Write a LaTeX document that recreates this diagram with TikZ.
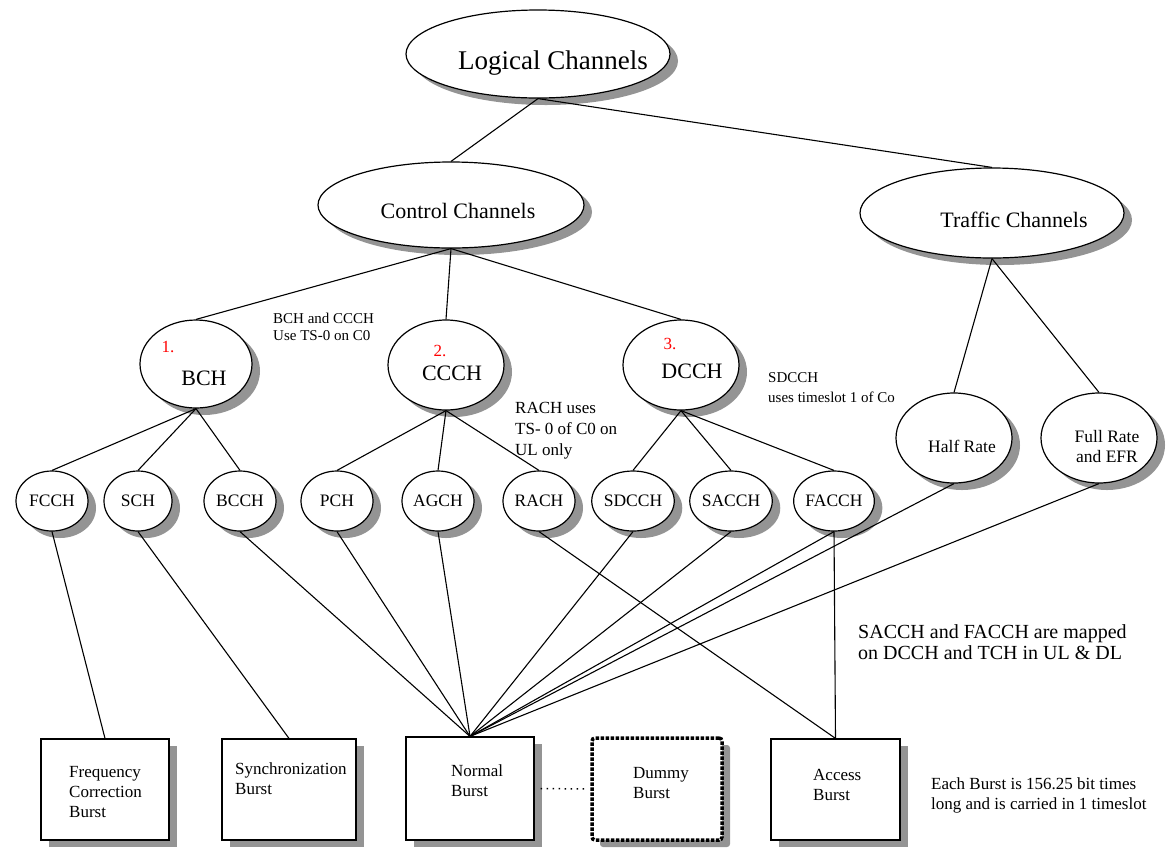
\documentclass[tikz,border=0pt]{standalone}
\usepackage{fontspec}
\setmainfont{Liberation Serif}
\usetikzlibrary{shapes.geometric,shadows}
\begin{document}
\begin{tikzpicture}[x=1pt,y=-1pt,
  shade/.style={drop shadow={shadow xshift=8pt,shadow yshift=-7pt,fill=black,opacity=0.42}},
  oval/.style={ellipse,draw,line width=1.2pt,fill=white,inner sep=0pt,shade},
  bigoval/.style={oval,minimum width=264pt,minimum height=88pt},
  midoval/.style={oval,minimum width=116pt,minimum height=90pt},
  smalloval/.style={oval,minimum width=72pt,minimum height=60pt,font=\fontsize{17.5}{20}\selectfont},
  burst/.style={rectangle,draw,line width=1.2pt,fill=white,inner sep=0pt,shade,minimum width=128pt,minimum height=101pt},
  link/.style={line width=1.1pt},
  big/.style={inner sep=0pt,font=\fontsize{27}{32}\selectfont},
  head/.style={inner sep=0pt,font=\fontsize{22}{26}\selectfont},
  num/.style={inner sep=0pt,text=red,font=\fontsize{17}{20}\selectfont},
  btxt/.style={inner sep=0pt,anchor=west,align=left,font=\fontsize{17}{20}\selectfont},
  note/.style={inner sep=0pt,anchor=west,align=left,font=\fontsize{15}{17}\selectfont},
  mtxt/.style={inner sep=0pt,align=center,font=\fontsize{17.5}{20}\selectfont}]
\useasboundingbox (0,0) rectangle (1166,847);
\fill[white] (0,0) rectangle (1166,847);

% top levels
\node[bigoval] (logical) at (538,54) {};
\node[big] (logicalT) at (553,63) {Logical Channels};
\node[bigoval,minimum width=266pt,minimum height=86pt] (control) at (451,205) {};
\node[head] (controlT) at (458,211) {Control Channels};
\node[bigoval,minimum height=90pt] (traffic) at (992,213) {};
\node[head] (trafficT) at (1014,220) {Traffic Channels};

% control channel groups
\node[midoval,minimum width=112pt,minimum height=88pt] (bch) at (196,364) {};
\node[num] (bchN) at (168,347) {1.};
\node[head] (bchT) at (204,378) {BCH};
\node[midoval] (ccch) at (446,365) {};
\node[num] (ccchN) at (440,351) {2.};
\node[head] (ccchT) at (452,373) {CCCH};
\node[midoval] (dcch) at (681,365) {};
\node[num] (dcchN) at (670,344) {3.};
\node[head] (dcchT) at (692,371) {DCCH};

% traffic channel types
\node[midoval] (half) at (954,438) {};
\node[mtxt] (halfT) at (962,446) {Half Rate};
\node[midoval] (full) at (1099,438) {};
\node[mtxt] (fullT) at (1107,447) {Full Rate\\and EFR};

% individual channels
\node[smalloval] (fcch) at (52,501) {FCCH};
\node[smalloval,minimum width=68pt] (sch) at (138,501) {SCH};
\node[smalloval] (bcch) at (240,501) {BCCH};
\node[smalloval] (pch) at (337,501) {PCH};
\node[smalloval] (agch) at (438,501) {AGCH};
\node[smalloval] (rach) at (539,501) {RACH};
\node[smalloval,minimum width=78pt] (sdcch) at (633,501) {SDCCH};
\node[smalloval,minimum width=74pt] (sacch) at (731,501) {SACCH};
\node[smalloval,minimum width=80pt] (facch) at (834,501) {FACCH};

% burst types
\node[burst] (fcb) at (105,789.5) {};
\node[btxt] (fcbT) at (69,792) {Frequency\\Correction\\Burst};
\node[burst,minimum width=134pt] (sync) at (289,789.5) {};
\node[btxt] (syncT) at (235,779) {Synchronization\\Burst};
\node[burst,minimum height=103pt] (normal) at (470,788.5) {};
\node[btxt] (normalT) at (451,781) {Normal\\Burst};
\node[burst,minimum width=130pt,minimum height=102pt,line width=3.5pt,dash pattern=on 3.5pt off 1.5pt,rounded corners=3pt] (dummy) at (657,789) {};
\node[btxt] (dummyT) at (633,783) {Dummy\\Burst};
\node[burst,minimum width=129pt] (access) at (835.5,789.5) {};
\node[btxt] (accessT) at (813,785) {Access\\Burst};

% notes
\node[note] (noteA) at (273,326.5) {BCH and CCCH\\Use TS-0 on C0};
\node[btxt,font=\fontsize{17}{21}\selectfont] (noteB) at (515,431) {RACH uses\\TS- 0 of C0 on\\UL only};
\node[note,font=\fontsize{15}{20}\selectfont] (noteC) at (768,388) {SDCCH\\uses timeslot 1 of Co};
\node[btxt,font=\fontsize{20}{21}\selectfont] (noteD) at (858,642.5) {SACCH and FACCH are mapped\\on DCCH and TCH in UL \& DL};
\node[btxt] (noteE) at (931,795) {Each Burst is 156.25 bit times\\long and is carried in 1 timeslot};

% hierarchy
\draw[link] (logical.south) -- (control.north);
\draw[link] (logical.south) -- (traffic.north);
\draw[link] (control.south) -- (bch.north);
\draw[link] (control.south) -- (ccch.north);
\draw[link] (control.south) -- (dcch.north);
\draw[link] (traffic.south) -- (half.north);
\draw[link] (traffic.south) -- (full.north);
\foreach \c in {fcch,sch,bcch} \draw[link] (bch.south) -- (\c.north);
\foreach \c in {pch,agch,rach} \draw[link] (ccch.south) -- (\c.north);
\foreach \c in {sdcch,sacch,facch} \draw[link] (dcch.south) -- (\c.north);

% mapping onto bursts
\draw[link] (fcch.south) -- (fcb.north);
\draw[link] (sch.south) -- (sync.north);
\foreach \c in {bcch,pch,agch,sdcch,sacch,facch,half,full} \draw[link] (\c.south) -- (normal.north);
\draw[link] (rach.south) -- (access.north);
\draw[link] (facch.south) -- (access.north);
\draw[line width=1.5pt,dash pattern=on 1.5pt off 4.5pt,shorten <=6pt,shorten >=4pt] (normal.east) -- (dummy.west);
\end{tikzpicture}
\end{document}
